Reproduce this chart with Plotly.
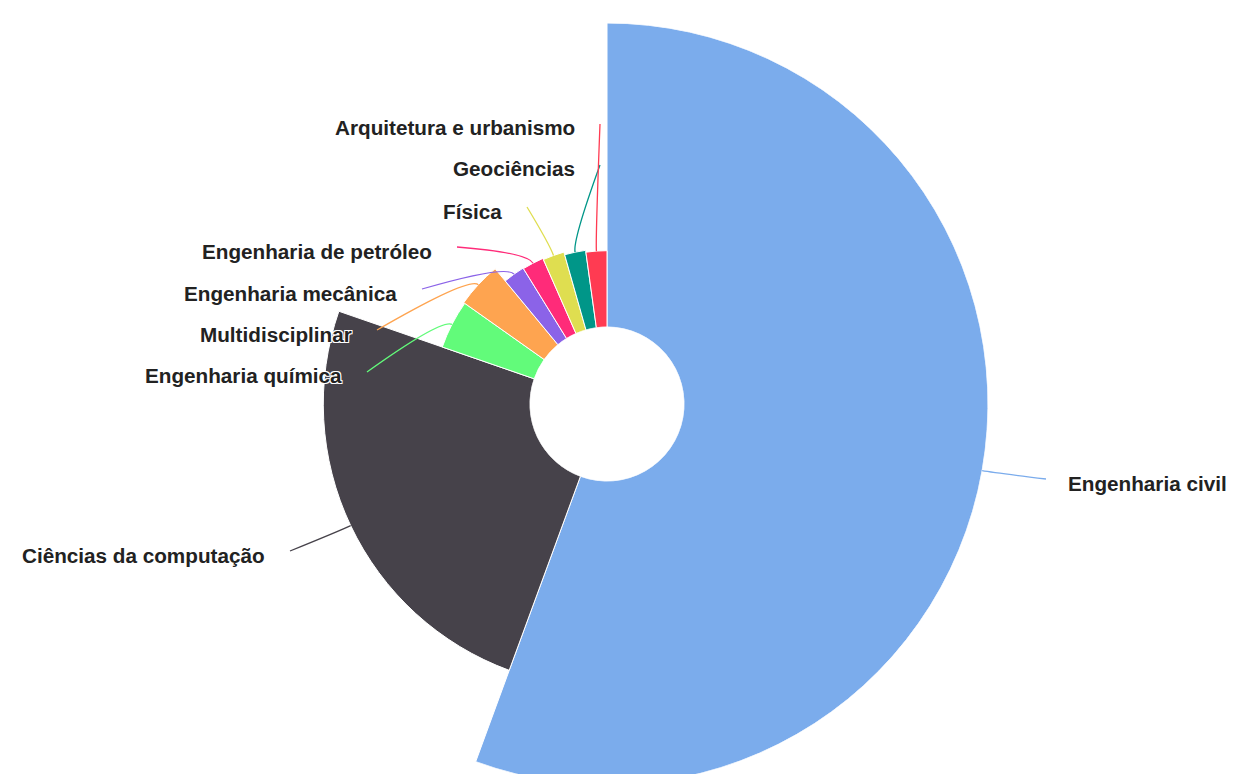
import numpy as np
import plotly.graph_objects as go

# Áreas do conhecimento (ordem horária a partir do topo)
areas = [
    "Engenharia civil",
    "Ciências da computação",
    "Engenharia química",
    "Multidisciplinar",
    "Engenharia mecânica",
    "Engenharia de petróleo",
    "Física",
    "Geociências",
    "Arquitetura e urbanismo",
]
# participação (%) -> abertura angular de cada setor
participacao = [55.6, 24.7, 4.5, 4.2, 2.2, 2.2, 2.2, 2.2, 2.2]
# índice relativo -> raio de cada setor
indice = [100, 68.0, 32.0, 32.4, 27.2, 27.0, 26.6, 25.7, 25.1]

cores = ["#7bacec", "#46424a", "#62fb7a", "#fea450", "#8b63e8",
         "#ff2b79", "#dfde50", "#009688", "#ff3b52"]

# ponto final da linha-guia de cada rótulo (px) e lado do texto
fim_linha = [(1046, 479), (290, 551), (367, 372), (377, 330), (422, 289),
             (457, 247), (527, 207), (600, 165), (600, 124)]
lado = ["dir", "esq", "esq", "esq", "esq", "esq", "esq", "esq", "esq"]

# geometria da figura
W, H = 1239, 810
CX, CY = 607, 404
R, R0 = 381, 77
RMAX = 100
GAP_ESQ, GAP_DIR = 23, 20
L1 = 12

part = np.array(participacao, dtype=float)
larg = part / part.sum() * 360.0
inicio = np.concatenate([[0], np.cumsum(larg)[:-1]])
meio = inicio + larg / 2

fig = go.Figure(
    go.Barpolar(
        r=indice,
        theta=meio,
        width=larg,
        marker=dict(color=cores, line=dict(color="white", width=1)),
        hoverinfo="text",
        hovertext=areas,
        showlegend=False,
    )
)


def px_polar(ang, raio_px):
    a = np.deg2rad(ang)
    return CX + raio_px * np.sin(a), CY - raio_px * np.cos(a)


def to_paper(x, y):
    return x / W, 1 - y / H


shapes = []
annotations = []
for i, nome in enumerate(areas):
    r_px = R0 + (R - R0) * indice[i] / RMAX
    x0, y0 = px_polar(meio[i], r_px)
    x1, y1 = px_polar(meio[i], r_px + L1)
    x2, y2 = fim_linha[i]
    p0, p1, p2 = to_paper(x0, y0), to_paper(x1, y1), to_paper(x2, y2)
    shapes.append(dict(
        type="path", xref="paper", yref="paper",
        path=f"M {p0[0]},{p0[1]} Q {p1[0]},{p1[1]} {p2[0]},{p2[1]}",
        line=dict(color=cores[i], width=1.3),
    ))
    if lado[i] == "esq":
        tx, anchor = x2 - GAP_ESQ, "right"
    else:
        tx, anchor = x2 + GAP_DIR, "left"
    ax, ay = to_paper(tx, y2 + 4)
    annotations.append(dict(
        x=ax, y=ay, xref="paper", yref="paper", text=nome,
        showarrow=False, xanchor=anchor, yanchor="middle",
        font=dict(family="Liberation Sans, Arial, sans-serif", size=20.7,
                  color="#222222", weight="bold",
                  shadow="1px 1px 0 #fff, -1px -1px 0 #fff, 1px -1px 0 #fff, -1px 1px 0 #fff"),
    ))

fig.update_layout(
    width=W, height=H, autosize=False,
    margin=dict(l=0, r=0, t=0, b=0),
    paper_bgcolor="white", plot_bgcolor="white",
    polar=dict(
        domain=dict(x=[(CX - R) / W, (CX + R) / W], y=[1 - (CY + R) / H, 1 - (CY - R) / H]),
        hole=R0 / R,
        bgcolor="white",
        radialaxis=dict(range=[0, RMAX], visible=False),
        angularaxis=dict(rotation=90, direction="clockwise", visible=False),
    ),
    shapes=shapes,
    annotations=annotations,
)

fig.write_html(
    "out.html",
    post_script="document.documentElement.style.overflow='hidden';"
                "document.body.style.overflow='hidden';document.body.style.margin='0';",
)
